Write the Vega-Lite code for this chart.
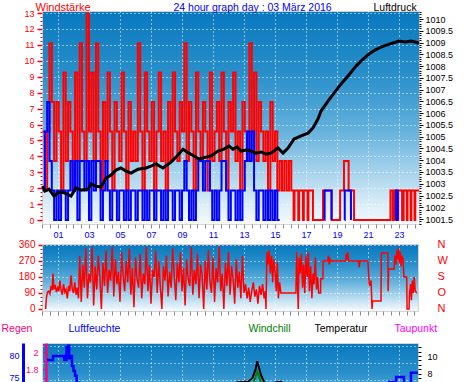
{
"$schema": "https://vega.github.io/schema/vega-lite/v6.json",
"padding": 0,
"background": "#ffffff",
"bounds": "flush",
"spacing": 1,
"config": {
  "font": "Liberation Sans",
  "view": {"stroke": "#d4d4d4"},
  "axis": {"domain": false, "titleFontWeight": "normal", "labelFont": "Liberation Sans", "titleFont": "Liberation Sans", "gridColor": "#ffffff", "gridDash": [1, 3], "gridOpacity": 1, "labelOverlap": false, "labelFlush": false, "labelBound": false},
  "title": {"fontWeight": "normal"}
},
"datasets": {
  "gust": [
    {"h":0,"g":5.56},{"h":0.15,"g":1.85},{"h":0.3,"g":5.56},{"h":0.45,"g":11.11},{"h":0.6,"g":7.41},{"h":0.75,"g":3.7},{"h":0.9,"g":7.41},{"h":1.05,"g":5.56},{"h":1.2,"g":1.85},{"h":1.35,"g":9.26},{"h":1.5,"g":3.7},{"h":1.65,"g":7.41},{"h":1.8,"g":5.56},{"h":1.95,"g":1.85},{"h":2.1,"g":9.26},{"h":2.25,"g":3.7},{"h":2.4,"g":11.11},{"h":2.55,"g":5.56},{"h":2.7,"g":3.7},{"h":2.85,"g":12.96},{"h":3.0,"g":5.56},{"h":3.15,"g":9.26},{"h":3.3,"g":3.7},{"h":3.45,"g":11.11},{"h":3.6,"g":5.56},{"h":3.75,"g":1.85},{"h":3.9,"g":7.41},{"h":4.05,"g":3.7},{"h":4.2,"g":9.26},{"h":4.35,"g":5.56},{"h":4.5,"g":1.85},{"h":4.65,"g":7.41},{"h":4.8,"g":5.56},{"h":4.95,"g":3.7},{"h":5.1,"g":9.26},{"h":5.25,"g":5.56},{"h":5.4,"g":1.85},{"h":5.55,"g":7.41},{"h":5.7,"g":3.7},{"h":5.85,"g":5.56},{"h":6.0,"g":3.7},{"h":6.15,"g":11.11},{"h":6.3,"g":5.56},{"h":6.45,"g":1.85},{"h":6.6,"g":9.26},{"h":6.75,"g":5.56},{"h":6.9,"g":3.7},{"h":7.05,"g":7.41},{"h":7.2,"g":1.85},{"h":7.35,"g":5.56},{"h":7.5,"g":9.26},{"h":7.65,"g":3.7},{"h":7.8,"g":5.56},{"h":7.95,"g":1.85},{"h":8.1,"g":7.41},{"h":8.25,"g":3.7},{"h":8.4,"g":9.26},{"h":8.55,"g":5.56},{"h":8.7,"g":3.7},{"h":8.85,"g":7.41},{"h":9.0,"g":5.56},{"h":9.15,"g":11.11},{"h":9.3,"g":3.7},{"h":9.45,"g":7.41},{"h":9.6,"g":5.56},{"h":9.75,"g":1.85},{"h":9.9,"g":9.26},{"h":10.05,"g":5.56},{"h":10.2,"g":3.7},{"h":10.35,"g":7.41},{"h":10.5,"g":5.56},{"h":10.65,"g":1.85},{"h":10.8,"g":9.26},{"h":10.95,"g":3.7},{"h":11.1,"g":5.56},{"h":11.25,"g":7.41},{"h":11.4,"g":3.7},{"h":11.55,"g":9.26},{"h":11.7,"g":5.56},{"h":11.85,"g":1.85},{"h":12.0,"g":7.41},{"h":12.15,"g":5.56},{"h":12.3,"g":9.26},{"h":12.45,"g":3.7},{"h":12.6,"g":5.56},{"h":12.75,"g":1.85},{"h":12.9,"g":7.41},{"h":13.05,"g":5.56},{"h":13.2,"g":3.7},{"h":13.35,"g":11.11},{"h":13.5,"g":5.56},{"h":13.65,"g":9.26},{"h":13.8,"g":3.7},{"h":13.95,"g":7.41},{"h":14.1,"g":5.56},{"h":14.25,"g":3.7},{"h":14.4,"g":5.56},{"h":14.55,"g":1.85},{"h":14.7,"g":7.41},{"h":14.85,"g":3.7},{"h":15.0,"g":5.56},{"h":15.15,"g":1.85},{"h":15.3,"g":3.7},{"h":15.45,"g":1.85},{"h":15.6,"g":3.7},{"h":15.75,"g":1.85},{"h":15.9,"g":3.7},{"h":16.05,"g":1.85},{"h":16.2,"g":0},{"h":16.26,"g":1.85},{"h":16.5,"g":0},{"h":16.56,"g":1.85},{"h":16.8,"g":0},{"h":16.86,"g":1.85},{"h":17.1,"g":0},{"h":17.16,"g":1.85},{"h":17.45,"g":0},{"h":18.1,"g":1.85},{"h":18.65,"g":0},{"h":19.2,"g":1.85},{"h":19.45,"g":3.7},{"h":19.75,"g":1.85},{"h":20.1,"g":0},{"h":22.45,"g":1.85},{"h":22.6,"g":0},{"h":22.7,"g":1.85},{"h":22.85,"g":0},{"h":22.95,"g":1.85},{"h":23.2,"g":0},{"h":23.3,"g":1.85},{"h":23.5,"g":0},{"h":23.55,"g":1.85},{"h":23.75,"g":0},{"h":23.8,"g":1.85},{"h":24.0,"g":0},{"h":24.05,"g":1.85},{"h":24.29,"g":1.85}
  ],
  "avg": [
    {"h":0,"a":1.85,"s":1},{"h":0.15,"a":5.56,"s":1},{"h":0.3,"a":7.41,"s":1},{"h":0.45,"a":3.7,"s":1},{"h":0.6,"a":1.85,"s":1},{"h":0.75,"a":0,"s":1},{"h":0.9,"a":1.85,"s":1},{"h":1.05,"a":0,"s":1},{"h":1.2,"a":1.85,"s":1},{"h":1.35,"a":1.85,"s":1},{"h":1.5,"a":0,"s":1},{"h":1.65,"a":1.85,"s":1},{"h":1.8,"a":3.7,"s":1},{"h":1.95,"a":1.85,"s":1},{"h":2.1,"a":3.7,"s":1},{"h":2.25,"a":0,"s":1},{"h":2.4,"a":3.7,"s":1},{"h":2.55,"a":3.7,"s":1},{"h":2.7,"a":1.85,"s":1},{"h":2.85,"a":3.7,"s":1},{"h":3.0,"a":0,"s":1},{"h":3.15,"a":3.7,"s":1},{"h":3.3,"a":1.85,"s":1},{"h":3.45,"a":3.7,"s":1},{"h":3.6,"a":3.7,"s":1},{"h":3.75,"a":0,"s":1},{"h":3.9,"a":1.85,"s":1},{"h":4.05,"a":3.7,"s":1},{"h":4.2,"a":1.85,"s":1},{"h":4.35,"a":0,"s":1},{"h":4.5,"a":1.85,"s":1},{"h":4.65,"a":1.85,"s":1},{"h":4.8,"a":0,"s":1},{"h":4.95,"a":1.85,"s":1},{"h":5.1,"a":1.85,"s":1},{"h":5.25,"a":0,"s":1},{"h":5.4,"a":1.85,"s":1},{"h":5.55,"a":0,"s":1},{"h":5.7,"a":1.85,"s":1},{"h":5.85,"a":1.85,"s":1},{"h":6.0,"a":0,"s":1},{"h":6.15,"a":1.85,"s":1},{"h":6.3,"a":1.85,"s":1},{"h":6.45,"a":0,"s":1},{"h":6.6,"a":1.85,"s":1},{"h":6.75,"a":0,"s":1},{"h":6.9,"a":1.85,"s":1},{"h":7.05,"a":1.85,"s":1},{"h":7.2,"a":0,"s":1},{"h":7.35,"a":1.85,"s":1},{"h":7.5,"a":1.85,"s":1},{"h":7.65,"a":0,"s":1},{"h":7.8,"a":1.85,"s":1},{"h":7.95,"a":0,"s":1},{"h":8.1,"a":1.85,"s":1},{"h":8.25,"a":1.85,"s":1},{"h":8.4,"a":0,"s":1},{"h":8.55,"a":1.85,"s":1},{"h":8.7,"a":1.85,"s":1},{"h":8.85,"a":0,"s":1},{"h":9.0,"a":1.85,"s":1},{"h":9.15,"a":3.7,"s":1},{"h":9.3,"a":1.85,"s":1},{"h":9.45,"a":0,"s":1},{"h":9.6,"a":1.85,"s":1},{"h":9.75,"a":0,"s":1},{"h":9.9,"a":1.85,"s":1},{"h":10.05,"a":3.7,"s":1},{"h":10.2,"a":3.7,"s":1},{"h":10.35,"a":1.85,"s":1},{"h":10.5,"a":3.7,"s":1},{"h":10.65,"a":3.7,"s":1},{"h":10.8,"a":1.85,"s":1},{"h":10.95,"a":0,"s":1},{"h":11.1,"a":1.85,"s":1},{"h":11.25,"a":0,"s":1},{"h":11.4,"a":1.85,"s":1},{"h":11.55,"a":3.7,"s":1},{"h":11.7,"a":3.7,"s":1},{"h":11.85,"a":1.85,"s":1},{"h":12.0,"a":0,"s":1},{"h":12.15,"a":1.85,"s":1},{"h":12.3,"a":1.85,"s":1},{"h":12.45,"a":0,"s":1},{"h":12.6,"a":1.85,"s":1},{"h":12.75,"a":0,"s":1},{"h":12.9,"a":1.85,"s":1},{"h":13.05,"a":3.7,"s":1},{"h":13.2,"a":5.56,"s":1},{"h":13.35,"a":3.7,"s":1},{"h":13.5,"a":5.56,"s":1},{"h":13.65,"a":1.85,"s":1},{"h":13.8,"a":0,"s":1},{"h":13.95,"a":1.85,"s":1},{"h":14.1,"a":1.85,"s":1},{"h":14.25,"a":0,"s":1},{"h":14.4,"a":1.85,"s":1},{"h":14.55,"a":0,"s":1},{"h":14.7,"a":1.85,"s":1},{"h":14.85,"a":0,"s":1},{"h":15.0,"a":1.85,"s":1},{"h":15.15,"a":0,"s":1},{"h":15.3,"a":0,"s":1},
    {"h":18.19,"a":0,"s":2},{"h":18.2,"a":1.85,"s":2},{"h":18.65,"a":0,"s":2},
    {"h":19.49,"a":0,"s":3},{"h":19.5,"a":1.85,"s":3},{"h":19.9,"a":0,"s":3},
    {"h":22.79,"a":0,"s":4},{"h":22.8,"a":1.85,"s":4},{"h":22.85,"a":0,"s":4},{"h":22.88,"a":1.85,"s":4},{"h":22.92,"a":0,"s":4}
  ],
  "press": [
    {"h":0,"p":1002.9},{"h":0.16,"p":1002.69},{"h":0.42,"p":1002.77},{"h":0.74,"p":1002.48},{"h":1.06,"p":1002.65},{"h":1.39,"p":1002.62},{"h":1.84,"p":1002.48},{"h":2.16,"p":1002.82},{"h":2.48,"p":1002.73},{"h":2.94,"p":1002.77},{"h":3.13,"p":1002.99},{"h":3.45,"p":1002.9},{"h":3.77,"p":1002.86},{"h":4.1,"p":1003.24},{"h":4.42,"p":1003.37},{"h":4.74,"p":1003.58},{"h":5.06,"p":1003.67},{"h":5.39,"p":1003.54},{"h":5.71,"p":1003.45},{"h":6.16,"p":1003.62},{"h":6.68,"p":1003.67},{"h":7.0,"p":1003.75},{"h":7.32,"p":1003.84},{"h":7.77,"p":1003.67},{"h":8.29,"p":1003.92},{"h":8.68,"p":1004.18},{"h":9.06,"p":1004.47},{"h":9.45,"p":1004.3},{"h":9.77,"p":1004.18},{"h":10.1,"p":1004.05},{"h":10.55,"p":1004.13},{"h":10.87,"p":1004.18},{"h":11.32,"p":1004.39},{"h":11.7,"p":1004.47},{"h":12.03,"p":1004.6},{"h":12.29,"p":1004.47},{"h":12.55,"p":1004.56},{"h":12.81,"p":1004.39},{"h":13.13,"p":1004.43},{"h":13.45,"p":1004.39},{"h":13.77,"p":1004.3},{"h":14.1,"p":1004.35},{"h":14.42,"p":1004.26},{"h":14.74,"p":1004.3},{"h":15.0,"p":1004.43},{"h":15.19,"p":1004.52},{"h":15.52,"p":1004.3},{"h":15.84,"p":1004.52},{"h":16.23,"p":1004.9},{"h":16.68,"p":1005.03},{"h":17.13,"p":1005.15},{"h":17.45,"p":1005.37},{"h":17.77,"p":1005.75},{"h":17.97,"p":1006.09},{"h":18.42,"p":1006.51},{"h":18.81,"p":1006.85},{"h":19.26,"p":1007.24},{"h":19.71,"p":1007.58},{"h":20.23,"p":1008.0},{"h":20.68,"p":1008.3},{"h":21.06,"p":1008.51},{"h":21.45,"p":1008.68},{"h":21.84,"p":1008.81},{"h":22.23,"p":1008.9},{"h":22.61,"p":1008.98},{"h":23.0,"p":1009.06},{"h":23.39,"p":1009.02},{"h":23.77,"p":1009.06},{"h":24.29,"p":1008.98}
  ],
  "dir": [
    {"h":0.2,"d":0},{"h":0.25,"d":60},{"h":0.32,"d":95},{"h":0.4,"d":100},{"h":0.48,"d":85},{"h":0.55,"d":130},{"h":0.62,"d":105},{"h":0.68,"d":200},{"h":0.74,"d":110},{"h":0.82,"d":135},{"h":0.9,"d":95},{"h":0.98,"d":120},{"h":1.05,"d":100},{"h":1.12,"d":160},{"h":1.2,"d":105},{"h":1.28,"d":80},{"h":1.36,"d":140},{"h":1.44,"d":95},{"h":1.52,"d":110},{"h":1.6,"d":60},{"h":1.68,"d":130},{"h":1.76,"d":100},{"h":1.84,"d":190},{"h":1.92,"d":110},{"h":2.0,"d":90},{"h":2.08,"d":150},{"h":2.16,"d":80},{"h":2.24,"d":120},{"h":2.32,"d":60},
    {"h":2.4,"d":300},{"h":2.5,"d":40},{"h":2.6,"d":250},{"h":2.7,"d":120},{"h":2.8,"d":340},{"h":2.9,"d":60},{"h":3.0,"d":200},{"h":3.1,"d":150},{"h":3.2,"d":350},{"h":3.3,"d":20},{"h":3.4,"d":240},{"h":3.5,"d":110},{"h":3.6,"d":300},{"h":3.7,"d":180},{"h":3.8,"d":0},{"h":3.9,"d":260},{"h":4.0,"d":130},{"h":4.1,"d":330},{"h":4.2,"d":90},{"h":4.3,"d":220},{"h":4.4,"d":160},{"h":4.5,"d":350},{"h":4.6,"d":70},{"h":4.7,"d":280},{"h":4.8,"d":140},{"h":4.9,"d":210},{"h":5.0,"d":40},{"h":5.1,"d":320},{"h":5.2,"d":190},{"h":5.3,"d":100},{"h":5.4,"d":270},{"h":5.5,"d":150},{"h":5.6,"d":340},{"h":5.7,"d":80},{"h":5.8,"d":230},{"h":5.9,"d":10},{"h":6.0,"d":290},{"h":6.1,"d":170},{"h":6.2,"d":120},{"h":6.3,"d":310},{"h":6.4,"d":60},{"h":6.5,"d":200},{"h":6.6,"d":140},{"h":6.7,"d":350},{"h":6.8,"d":100},{"h":6.9,"d":250},{"h":7.0,"d":30},{"h":7.1,"d":220},{"h":7.2,"d":180},{"h":7.3,"d":330},{"h":7.4,"d":90},{"h":7.5,"d":270},{"h":7.6,"d":130},{"h":7.7,"d":0},{"h":7.8,"d":240},{"h":7.9,"d":160},{"h":8.0,"d":300},{"h":8.1,"d":70},{"h":8.2,"d":210},{"h":8.3,"d":120},{"h":8.4,"d":340},{"h":8.5,"d":190},{"h":8.6,"d":50},{"h":8.7,"d":260},{"h":8.8,"d":150},{"h":8.9,"d":320},{"h":9.0,"d":100},{"h":9.1,"d":230},{"h":9.2,"d":20},{"h":9.3,"d":280},{"h":9.4,"d":170},{"h":9.5,"d":130},{"h":9.6,"d":350},{"h":9.7,"d":80},{"h":9.8,"d":220},{"h":9.9,"d":140},{"h":10.0,"d":310},{"h":10.1,"d":60},{"h":10.2,"d":250},{"h":10.3,"d":190},{"h":10.4,"d":0},{"h":10.5,"d":270},{"h":10.6,"d":110},{"h":10.7,"d":330},{"h":10.8,"d":160},{"h":10.9,"d":90},{"h":11.0,"d":290},{"h":11.1,"d":40},{"h":11.2,"d":230},{"h":11.3,"d":150},{"h":11.4,"d":350},{"h":11.5,"d":100},{"h":11.6,"d":200},{"h":11.7,"d":0},{"h":11.8,"d":260},{"h":11.9,"d":130},{"h":12.0,"d":320},{"h":12.1,"d":80},{"h":12.2,"d":240},{"h":12.3,"d":170},{"h":12.4,"d":30},{"h":12.5,"d":280},{"h":12.6,"d":120},{"h":12.7,"d":210},{"h":12.8,"d":60},{"h":12.9,"d":300},{"h":13.0,"d":90},
    {"h":13.1,"d":140},{"h":13.2,"d":60},{"h":13.3,"d":120},{"h":13.4,"d":40},{"h":13.5,"d":100},{"h":13.6,"d":150},{"h":13.7,"d":70},{"h":13.8,"d":110},{"h":13.9,"d":30},{"h":14.0,"d":130},{"h":14.1,"d":80},{"h":14.2,"d":140},{"h":14.3,"d":60},{"h":14.38,"d":100},{"h":14.42,"d":0},{"h":14.48,"d":320},{"h":14.55,"d":250},{"h":14.62,"d":330},{"h":14.7,"d":200},{"h":14.78,"d":300},{"h":14.85,"d":150},{"h":14.92,"d":280},{"h":15.0,"d":220},{"h":15.08,"d":100},{"h":15.15,"d":260},{"h":15.22,"d":60},{"h":15.3,"d":150},{"h":15.38,"d":90},{"h":16.35,"d":90},{"h":16.4,"d":320},{"h":16.45,"d":150},{"h":16.5,"d":0},{"h":16.55,"d":290},{"h":16.62,"d":200},{"h":16.7,"d":310},{"h":16.78,"d":120},{"h":16.85,"d":250},{"h":16.92,"d":90},{"h":17.0,"d":300},{"h":17.08,"d":180},{"h":17.15,"d":320},{"h":17.22,"d":100},{"h":17.3,"d":240},{"h":17.38,"d":60},{"h":17.45,"d":200},{"h":17.52,"d":140},{"h":17.6,"d":290},{"h":17.68,"d":110},{"h":17.75,"d":180},{"h":17.82,"d":90},{"h":17.94,"d":90},{"h":17.95,"d":170},{"h":18.09,"d":170},{"h":18.1,"d":270},{"h":18.4,"d":270},{"h":18.45,"d":300},{"h":18.5,"d":250},{"h":18.55,"d":280},{"h":18.6,"d":270},{"h":19.55,"d":270},{"h":19.6,"d":310},{"h":19.65,"d":280},{"h":19.7,"d":320},{"h":19.75,"d":270},{"h":20.4,"d":270},{"h":20.43,"d":235},{"h":20.48,"d":270},{"h":21.0,"d":270},{"h":21.05,"d":180},{"h":21.1,"d":130},{"h":21.2,"d":160},{"h":21.26,"d":0},{"h":21.3,"d":45},{"h":21.84,"d":45},{"h":21.86,"d":315},{"h":22.28,"d":315},{"h":22.3,"d":100},{"h":22.33,"d":225},{"h":22.68,"d":225},{"h":22.74,"d":300},{"h":22.8,"d":250},{"h":22.86,"d":330},{"h":22.92,"d":280},{"h":22.96,"d":345},{"h":23.02,"d":260},{"h":23.08,"d":320},{"h":23.14,"d":240},{"h":23.2,"d":300},{"h":23.26,"d":280},{"h":23.32,"d":180},{"h":23.5,"d":180},{"h":23.52,"d":0},{"h":23.65,"d":0},{"h":23.68,"d":90},{"h":23.75,"d":140},{"h":23.8,"d":50},{"h":23.86,"d":160},{"h":23.92,"d":90},{"h":23.98,"d":180},{"h":24.05,"d":100},{"h":24.15,"d":90}
  ],
  "hum": [
    {"h":0.29,"v":79.1},{"h":0.68,"v":80},{"h":1.4,"v":79.1},{"h":1.55,"v":82},{"h":1.6,"v":80.7},{"h":1.66,"v":82.3},{"h":1.72,"v":79.5},{"h":1.8,"v":80},{"h":1.9,"v":77.7},{"h":2.0,"v":76.6},{"h":2.1,"v":75.5},{"h":2.2,"v":73.9},{"h":2.35,"v":72},{"h":2.6,"v":70},{"h":3.0,"v":68},{"h":4.0,"v":66},{"h":6.0,"v":64},{"h":9.0,"v":63},{"h":12.0,"v":62},{"h":14.0,"v":61},{"h":15.0,"v":64},{"h":17.0,"v":67},{"h":19.0,"v":69},{"h":21.0,"v":71},{"h":22.0,"v":72.5},{"h":22.35,"v":74.1},{"h":22.81,"v":75.2},{"h":23.32,"v":71.5},{"h":23.77,"v":76.2},{"h":24.226,"v":76.2}
  ],
  "temp": [
    {"h":0,"t":5.0},{"h":4,"t":4.6},{"h":8,"t":4.8},{"h":10,"t":5.5},{"h":11,"t":6.0},{"h":12,"t":6.5},{"h":12.6,"t":7.0},{"h":13.0,"t":7.05},{"h":13.3,"t":7.1},{"h":13.55,"t":7.5},{"h":13.75,"t":8.5},{"h":13.85,"t":9.4},{"h":13.95,"t":8.8},{"h":14.1,"t":7.8},{"h":14.3,"t":7.0},{"h":14.6,"t":6.8},{"h":15.1,"t":7.0},{"h":15.4,"t":7.05},{"h":15.7,"t":6.6},{"h":16.5,"t":5.8},{"h":18,"t":4.5},{"h":20,"t":3.8},{"h":22,"t":3.2},{"h":24.2,"t":2.9}
  ],
  "chill": [
    {"h":0,"t":3.0},{"h":6,"t":2.8},{"h":10,"t":3.8},{"h":12,"t":5.0},{"h":13.3,"t":6.0},{"h":13.6,"t":6.9},{"h":13.75,"t":7.6},{"h":13.85,"t":8.2},{"h":13.95,"t":7.8},{"h":14.1,"t":6.8},{"h":14.5,"t":5.8},{"h":16,"t":4.5},{"h":20,"t":2.5},{"h":24.2,"t":1.8}
  ],
  "dew": [
    {"h":0,"t":1.5},{"h":6,"t":1.2},{"h":12,"t":1.8},{"h":18,"t":1.0},{"h":24.2,"t":0.8}
  ],
  "rain": [
    {"h":0,"r":0},{"h":24.2,"r":0}
  ]
},
"vconcat": [
  {
    "width": 377, "height": 213,
    "view": {"stroke": "#d4d4d4", "fill": {"gradient": "linear", "x1": 0, "y1": 0, "x2": 0, "y2": 1, "stops": [{"offset": 0, "color": "#0878be"}, {"offset": 0.3, "color": "#2a90cb"}, {"offset": 0.55, "color": "#62b0dc"}, {"offset": 0.75, "color": "#a6d2ec"}, {"offset": 0.9, "color": "#d8ecf7"}, {"offset": 1, "color": "#f6fbfe"}]}},
    "encoding": {
      "x": {"field": "h", "type": "quantitative", "scale": {"domain": [-0.032, 24.29], "nice": false, "zero": false},
        "axis": {"values": [0,0.5,1,1.5,2,2.5,3,3.5,4,4.5,5,5.5,6,6.5,7,7.5,8,8.5,9,9.5,10,10.5,11,11.5,12,12.5,13,13.5,14,14.5,15,15.5,16,16.5,17,17.5,18,18.5,19,19.5,20,20.5,21,21.5,22,22.5,23,23.5,24],
          "labelExpr": "datum.value % 2 === 1 ? (datum.value < 10 ? '0' + datum.value : '' + datum.value) : ''",
          "labelColor": "#0000ff", "labelFontSize": 9, "labelPadding": 2, "tickColor": "#8a8a8a", "tickSize": 4,
          "grid": true, "gridOpacity": {"condition": {"test": "datum.value % 2 === 1", "value": 1}, "value": 0}, "title": null}}
    },
    "layer": [
      {"data": {"name": "gust"}, "mark": {"type": "line", "interpolate": "step-after", "color": "#ff0000", "strokeWidth": 2},
        "encoding": {"y": {"field": "g", "type": "quantitative", "scale": {"domain": [-0.25, 13.13], "nice": false, "zero": false},
          "axis": {"orient": "left", "values": [0,1,2,3,4,5,6,7,8,9,10,11,12,13], "tickColor": "#ff0000", "tickSize": 5, "tickWidth": 1.5, "labelColor": "#ff0000", "labelFontSize": 9, "labelPadding": 3, "grid": true,
            "title": "Windstärke", "titleColor": "#ff0000", "titleFontSize": 11, "titleAngle": 0, "titleAlign": "left", "titleBaseline": "alphabetic", "titleX": -7, "titleY": -1}}}},
      {"data": {"name": "avg"}, "mark": {"type": "line", "interpolate": "step-after", "color": "#0000ff", "strokeWidth": 2},
        "encoding": {"y": {"field": "a", "type": "quantitative", "scale": {"domain": [-0.25, 13.13], "nice": false, "zero": false},
          "axis": {"orient": "left", "values": [0.25,0.5,0.75,1.25,1.5,1.75,2.25,2.5,2.75,3.25,3.5,3.75,4.25,4.5,4.75,5.25,5.5,5.75,6.25,6.5,6.75,7.25,7.5,7.75,8.25,8.5,8.75,9.25,9.5,9.75,10.25,10.5,10.75,11.25,11.5,11.75,12.25,12.5,12.75], "labels": false, "tickSize": 2, "tickColor": "#ff0000", "grid": false, "title": null}},
          "detail": {"field": "s"}}},
      {"data": {"name": "press"}, "mark": {"type": "line", "color": "#000000", "strokeWidth": 3},
        "encoding": {"y": {"field": "p", "type": "quantitative", "scale": {"domain": [1001.29, 1010.34], "nice": false, "zero": false},
          "axis": {"orient": "right", "values": [1001.5,1002,1002.5,1003,1003.5,1004,1004.5,1005,1005.5,1006,1006.5,1007,1007.5,1008,1008.5,1009,1009.5,1010], "format": ".1~f", "labelColor": "#000000", "labelFontSize": 9, "tickColor": "#000000", "tickSize": 4, "labelPadding": 2, "grid": false,
            "title": "Luftdruck", "titleColor": "#000000", "titleFontSize": 10.5, "titleAngle": 0, "titleAlign": "left", "titleBaseline": "alphabetic", "titleX": -46, "titleY": -1}}}},
      {"data": {"name": "press"}, "mark": {"type": "line", "strokeOpacity": 0},
        "encoding": {"y": {"field": "p", "type": "quantitative", "scale": {"domain": [1001.29, 1010.34], "nice": false, "zero": false},
          "axis": {"orient": "right", "values": [1001.3,1001.4,1001.6,1001.7,1001.8,1001.9,1002.1,1002.2,1002.3,1002.4,1002.6,1002.7,1002.8,1002.9,1003.1,1003.2,1003.3,1003.4,1003.6,1003.7,1003.8,1003.9,1004.1,1004.2,1004.3,1004.4,1004.6,1004.7,1004.8,1004.9,1005.1,1005.2,1005.3,1005.4,1005.6,1005.7,1005.8,1005.9,1006.1,1006.2,1006.3,1006.4,1006.6,1006.7,1006.8,1006.9,1007.1,1007.2,1007.3,1007.4,1007.6,1007.7,1007.8,1007.9,1008.1,1008.2,1008.3,1008.4,1008.6,1008.7,1008.8,1008.9,1009.1,1009.2,1009.3,1009.4,1009.6,1009.7,1009.8,1009.9,1010.1,1010.2,1010.3], "labels": false, "tickSize": 2, "tickColor": "#000000", "grid": false,
            "title": "24 hour graph day : 03 März 2016", "titleColor": "#0000ff", "titleFontSize": 10.5, "titleAngle": 0, "titleAlign": "left", "titleBaseline": "alphabetic", "titleX": -246, "titleY": -1}}}}
    ],
    "resolve": {"scale": {"y": "independent"}}
  },
  {"width": 1, "height": 18, "view": {"stroke": null, "fill": null}, "data": {"values": []}, "mark": "point"},
  {
    "width": 376, "height": 67,
    "view": {"stroke": "#d4d4d4", "fill": {"gradient": "linear", "x1": 0, "y1": 0, "x2": 0, "y2": 1, "stops": [{"offset": 0, "color": "#0878be"}, {"offset": 0.3, "color": "#2a90cb"}, {"offset": 0.55, "color": "#62b0dc"}, {"offset": 0.75, "color": "#a6d2ec"}, {"offset": 0.9, "color": "#d8ecf7"}, {"offset": 1, "color": "#f6fbfe"}]}},
    "encoding": {
      "x": {"field": "h", "type": "quantitative", "scale": {"domain": [-0.032, 24.226], "nice": false, "zero": false},
        "axis": {"values": [0,0.5,1,1.5,2,2.5,3,3.5,4,4.5,5,5.5,6,6.5,7,7.5,8,8.5,9,9.5,10,10.5,11,11.5,12,12.5,13,13.5,14,14.5,15,15.5,16,16.5,17,17.5,18,18.5,19,19.5,20,20.5,21,21.5,22,22.5,23,23.5,24],
          "labels": false, "tickColor": "#8a8a8a", "tickSize": 4, "grid": true, "gridOpacity": {"condition": {"test": "datum.value % 2 === 1", "value": 1}, "value": 0}, "title": null}}
    },
    "layer": [
      {"data": {"name": "dir"}, "mark": {"type": "line", "color": "#ff0000", "strokeWidth": 1.5},
        "encoding": {"y": {"field": "d", "type": "quantitative", "scale": {"domain": [-11.25, 365.6], "nice": false, "zero": false},
          "axis": {"orient": "left", "values": [0,90,180,270,360], "labelColor": "#ff0000", "labelFontSize": 10, "tickColor": "#ff0000", "tickSize": 4, "tickWidth": 1.5, "labelPadding": 3, "grid": true, "title": null}}}},
      {"data": {"name": "dir"}, "mark": {"type": "line", "strokeOpacity": 0},
        "encoding": {"y": {"field": "d", "type": "quantitative", "scale": {"domain": [-11.25, 365.6], "nice": false, "zero": false},
          "axis": {"orient": "left", "values": [22.5,45,67.5,112.5,135,157.5,202.5,225,247.5,292.5,315,337.5], "labels": false, "tickColor": "#ff0000", "tickSize": 2, "grid": false, "title": null}}}},
      {"data": {"name": "dir"}, "mark": {"type": "line", "strokeOpacity": 0},
        "encoding": {"y": {"field": "d", "type": "quantitative", "scale": {"domain": [-11.25, 365.6], "nice": false, "zero": false},
          "axis": {"orient": "right", "values": [0,90,180,270,360], "labelExpr": "datum.value == 90 ? 'O' : datum.value == 180 ? 'S' : datum.value == 270 ? 'W' : 'N'", "labelColor": "#ff0000", "labelFontSize": 11, "ticks": false, "labelPadding": 19, "grid": false, "title": null}}}}
    ],
    "resolve": {"scale": {"y": "independent"}}
  },
  {"width": 1, "height": 30, "view": {"stroke": null, "fill": null}, "data": {"values": []}, "mark": "point"},
  {
    "width": 376, "height": 100,
    "view": {"stroke": "#d4d4d4", "fill": {"gradient": "linear", "x1": 0, "y1": 0, "x2": 0, "y2": 1, "stops": [{"offset": 0, "color": "#0878be"}, {"offset": 0.3, "color": "#2a90cb"}, {"offset": 0.55, "color": "#62b0dc"}, {"offset": 0.75, "color": "#a6d2ec"}, {"offset": 0.9, "color": "#d8ecf7"}, {"offset": 1, "color": "#f6fbfe"}]}},
    "encoding": {
      "x": {"field": "h", "type": "quantitative", "scale": {"domain": [-0.032, 24.226], "nice": false, "zero": false},
        "axis": {"orient": "top", "values": [1,3,5,7,9,11,13,15,17,19,21,23], "labels": false, "ticks": false, "grid": true,
          "title": "Temperatur", "titleColor": "#000000", "titleFontSize": 10.5, "titleAngle": 0, "titleAlign": "left", "titleBaseline": "alphabetic", "titleX": 272, "titleY": -12}}
    },
    "layer": [
      {"data": {"name": "hum"}, "mark": {"type": "line", "interpolate": "step-after", "color": "#0000ff", "strokeWidth": 2.5, "clip": true},
        "encoding": {"y": {"field": "v", "type": "quantitative", "scale": {"domain": [60.23, 82.95], "nice": false, "zero": false},
          "axis": {"orient": "left", "offset": 19, "values": [65,70,75,80], "labelColor": "#0000ff", "labelFontSize": 9, "ticks": false, "labelPadding": 4, "domain": true, "domainColor": "#0000ff", "domainWidth": 3, "grid": false,
            "title": "Luftfeuchte", "titleColor": "#0000ff", "titleFontSize": 10.5, "titleAngle": 0, "titleAlign": "left", "titleBaseline": "alphabetic", "titleX": 45, "titleY": -12}}}},
      {"data": {"name": "rain"}, "mark": {"type": "line", "color": "#ff0080", "strokeWidth": 2, "clip": true},
        "encoding": {"y": {"field": "r", "type": "quantitative", "scale": {"domain": [0.9294, 2.1059], "nice": false, "zero": false},
          "axis": {"orient": "left", "offset": -4, "values": [1,1.1,1.2,1.3,1.4,1.5,1.6,1.7,1.8,1.9,2,2.1], "format": ".1~f", "labelExpr": "abs(datum.value * 5 - round(datum.value * 5)) < 0.001 ? datum.label : ''", "labelColor": "#ff0080", "labelFontSize": 9, "tickColor": "#ff0080", "tickSize": 3, "labelPadding": 5, "domain": true, "domainColor": "#ff0080", "domainWidth": 2.5, "grid": false,
            "title": "Regen", "titleColor": "#ff0080", "titleFontSize": 10.5, "titleAngle": 0, "titleAlign": "left", "titleBaseline": "alphabetic", "titleX": -45, "titleY": -12}}}},
      {"data": {"name": "rain"}, "mark": {"type": "line", "strokeOpacity": 0, "clip": true},
        "encoding": {"y": {"field": "r", "type": "quantitative", "scale": {"domain": [0.9294, 2.1059], "nice": false, "zero": false},
          "axis": {"orient": "left", "values": [2.0706, 1.8706, 1.6706, 1.4706, 1.2706, 1.0706], "labels": false, "ticks": false, "grid": true,
            "title": "Windchill", "titleColor": "#008000", "titleFontSize": 10.5, "titleAngle": 0, "titleAlign": "left", "titleBaseline": "alphabetic", "titleX": 206, "titleY": -12}}}},
      {"data": {"name": "chill"}, "mark": {"type": "line", "color": "#008000", "strokeWidth": 2, "clip": true},
        "encoding": {"y": {"field": "t", "type": "quantitative", "scale": {"domain": [0.057, 11.486], "nice": false, "zero": false}, "axis": null}}},
      {"data": {"name": "dew"}, "mark": {"type": "line", "color": "#ff00ff", "strokeWidth": 2, "clip": true},
        "encoding": {"y": {"field": "t", "type": "quantitative", "scale": {"domain": [0.057, 11.486], "nice": false, "zero": false}, "axis": null}}},
      {"data": {"name": "temp"}, "mark": {"type": "line", "color": "#000000", "strokeWidth": 2, "clip": true},
        "encoding": {"y": {"field": "t", "type": "quantitative", "scale": {"domain": [0.057, 11.486], "nice": false, "zero": false},
          "axis": {"orient": "right", "values": [0.5,1,1.5,2,2.5,3,3.5,4,4.5,5,5.5,6,6.5,7,7.5,8,8.5,9,9.5,10,10.5,11], "format": ".1~f", "labelExpr": "datum.value % 2 === 0 ? datum.label : ''", "labelColor": "#000000", "labelFontSize": 9, "tickColor": "#000000", "tickSize": 3, "labelPadding": 6, "grid": false,
            "title": "Taupunkt", "titleColor": "#ff00ff", "titleFontSize": 10.5, "titleAngle": 0, "titleAlign": "left", "titleBaseline": "alphabetic", "titleX": -24, "titleY": -12}}}}
    ],
    "resolve": {"scale": {"y": "independent"}}
  }
]
}
